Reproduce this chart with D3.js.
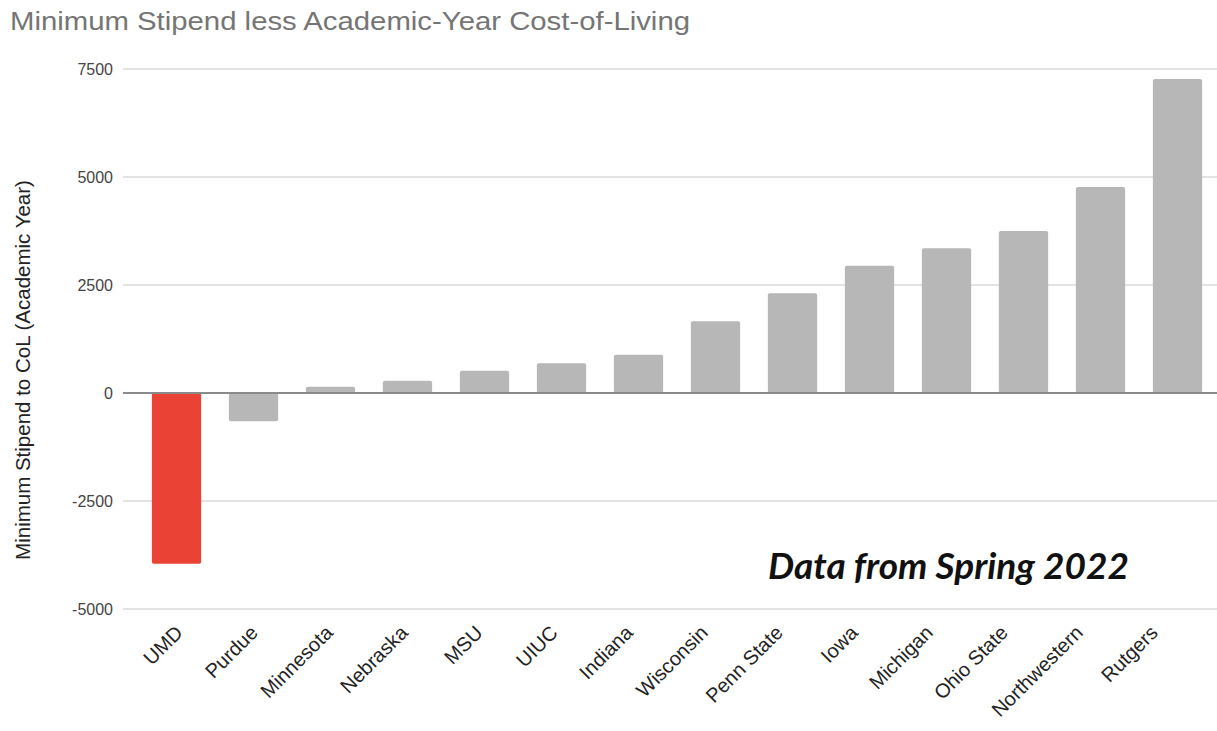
<!DOCTYPE html>
<html lang="en">
<head>
  <meta charset="UTF-8">
  <style>
    body { margin: 0; background: #fff; overflow: hidden; }
    svg { display: block; font-family: Arial, "Liberation Sans", sans-serif; }
    .grid line { stroke: #e3e3e3; stroke-width: 2; }
    .tick-label { fill: #444; font-size: 16px; }
    .cat-label { fill: #222; font-size: 20px; }
  </style>
  <script src="https://d3js.org/d3.v7.min.js"></script>
</head>
<body>
<svg id="chart"></svg>
<script>
  // schools, sorted as in the chart
  const schools = ["UMD", "Purdue", "Minnesota", "Nebraska", "MSU", "UIUC", "Indiana",
    "Wisconsin", "Penn State", "Iowa", "Michigan", "Ohio State", "Northwestern", "Rutgers"];
  // minimum stipend minus academic-year cost of living ($)
  const stipendLessCol = [-3950, -655, 146, 285, 516, 687, 887,
    1660, 2308, 2947, 3349, 3750, 4769, 7269];
  const yTicks = [-5000, -2500, 0, 2500, 5000, 7500];
  const highlight = "UMD";

  const W = 1217, H = 731;
  const svg = d3.select("#chart").attr("width", W).attr("height", H);

  const x = d3.scaleBand().domain(schools).range([138, 1216]).paddingInner(0.36).paddingOuter(0.18);
  // labels sit on a slightly tighter spacing than the bars
  const xLabel = d3.scalePoint().domain(schools).range([184, 1159]);
  const y = d3.scaleLinear().domain([-5000, 7500]).range([609, 69]);

  // title
  svg.append("text")
    .attr("x", 10).attr("y", 30)
    .attr("fill", "#757575")
    .style("font-size", "25px")
    .attr("textLength", 680).attr("lengthAdjust", "spacingAndGlyphs")
    .text("Minimum Stipend less Academic-Year Cost-of-Living");

  // gridlines
  svg.append("g").attr("class", "grid")
    .selectAll("line").data(yTicks.filter(d => d !== 0)).join("line")
    .attr("x1", 123).attr("x2", W)
    .attr("y1", d => y(d)).attr("y2", d => y(d));

  // tick labels
  svg.append("g").selectAll("text").data(yTicks).join("text")
    .attr("class", "tick-label")
    .attr("x", 113).attr("y", d => y(d))
    .attr("dy", "0.35em")
    .attr("text-anchor", "end")
    .text(d => d);

  // y title
  svg.append("text")
    .attr("transform", "translate(30,370) rotate(-90)")
    .attr("text-anchor", "middle")
    .attr("fill", "#222")
    .style("font-size", "20.5px")
    .text("Minimum Stipend to CoL (Academic Year)");

  // bars
  const data = schools.map((s, i) => ({ name: s, value: stipendLessCol[i] }));
  svg.append("g").selectAll("rect").data(data).join("rect")
    .attr("x", d => x(d.name))
    .attr("width", x.bandwidth())
    .attr("y", d => y(Math.max(0, d.value)))
    .attr("height", d => Math.abs(y(d.value) - y(0)))
    .attr("rx", 2)
    .attr("fill", d => d.name === highlight ? "#ea4335" : "#b7b7b7");

  // zero baseline
  svg.append("line")
    .attr("x1", 123).attr("x2", W)
    .attr("y1", y(0)).attr("y2", y(0))
    .attr("stroke", "#8a8a8a").attr("stroke-width", 2);

  // category labels, rotated
  svg.append("g").selectAll("text").data(schools).join("text")
    .attr("class", "cat-label")
    .attr("text-anchor", "end")
    .attr("transform", d => `translate(${xLabel(d)},634) rotate(-45)`)
    .text(d => d);

  // annotation
  svg.append("text")
    .attr("x", 768).attr("y", 579)
    .attr("fill", "#111")
    .style("font-family", "Lato, sans-serif")
    .style("font-weight", "bold")
    .style("font-style", "italic")
    .style("font-size", "37px")
    .text("Data from Spring 2022");
</script>
</body>
</html>
